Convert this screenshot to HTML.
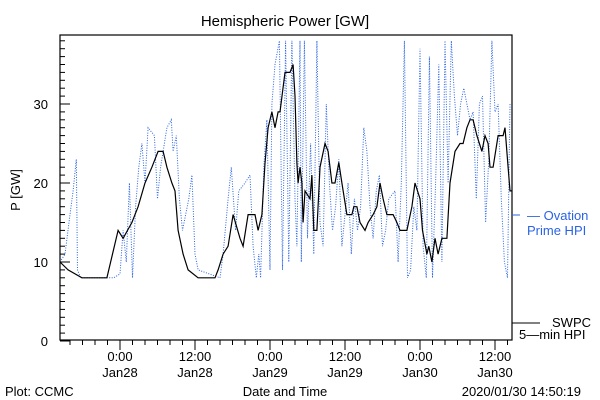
<!DOCTYPE html>
<html><head><meta charset="utf-8"><style>
body{margin:0;background:#fff}
svg{display:block;font-family:"Liberation Sans",sans-serif;font-size:13px}
</style></head><body>
<svg width="600" height="400" xmlns="http://www.w3.org/2000/svg">
<rect width="600" height="400" fill="#fff"/>
<text x="285" y="26" text-anchor="middle" font-size="15">Hemispheric Power [GW]</text>
<text transform="translate(20,190) rotate(-90)" text-anchor="middle">P [GW]</text>
<g id="axes"></g>
<g id="series"></g>
<rect x="60" y="35" width="452" height="305" fill="none" stroke="#000" stroke-width="1.2"/>
<line x1="512" y1="215" x2="520" y2="215" stroke="#2a63e6"/>
<text x="527" y="220" fill="#2a63e6">— Ovation</text>
<text x="527" y="235" fill="#2a63e6">Prime HPI</text>
<line x1="512" y1="323" x2="540" y2="323" stroke="#000"/>
<text x="552" y="327">SWPC</text>
<text x="519" y="339">5—min HPI</text>
<text x="5" y="396">Plot: CCMC</text>
<text x="285" y="396" text-anchor="middle">Date and Time</text>
<text x="581" y="396" text-anchor="end">2020/01/30 14:50:19</text>
</svg>
<script>
const yTicks=[0,10,20,30];
const xTickHours=[0,12,24,36,48,60];
const xTickTime=["0:00","12:00","0:00","12:00","0:00","12:00"];
const xTickDate=["Jan28","Jan28","Jan29","Jan29","Jan30","Jan30"];
const swpcHours=[-9.6,-8.3,-6.1,-2.1,-0.3,0.5,1.9,2.9,4,5.1,6.1,6.9,7.5,8.3,8.8,9.3,10.1,10.9,12.5,15.2,15.7,16.5,17.3,18.1,19.2,19.7,20.5,21.6,22.1,22.7,23.2,23.7,24.3,24.8,25.3,25.6,26.4,27.2,27.7,28,28.3,28.5,28.8,29.1,29.3,29.6,30.4,30.7,31,31.5,32,32.8,33.3,33.9,34.4,35,35.5,36.3,37.1,37.4,37.9,38.4,39.2,39.7,40.5,41.1,41.6,42.1,42.7,43.7,44.3,44.8,45.9,46.7,47.2,48,48.4,49.1,49.4,49.9,50.4,50.9,51.5,52.3,52.8,53.6,54.4,54.9,55.5,56,56.5,57.1,57.9,58.4,58.9,59.2,59.7,60.5,61.3,61.6,62.1,62.4,62.7];
const swpcValues=[10,9,8,8,14,13,15,17,20,22,24,24,22,20,19,14,11,9,8,8,9,11,12,16,13,12,16,16,14,16,22.5,27,29,27,29,29,34,34,35,31,22.5,20,22,20,15,19,18,21,14,14,22,25,24,20,20,22.6,20,16,16,17,17,15,14,15,16,17,20,18,16,16,15,14,14,17,20,18,14,11,12,10,13,11,13,13,20,24,25,25,27,28,28,26,24,26,25,22,22,26,26,27,22,19,19];
const ovHours=[-9.6,-8.8,-8,-7.5,-7,-6.8,-6.3,-1,0,0.5,1,1.5,2,2.5,3,3.5,4,4.5,5.5,6,6.5,7.5,8.2,8.5,9,9.5,10,11,11.5,12,12.5,16,16.5,17.3,17.8,18.5,19,20,20.8,21.3,21.8,22.2,22.5,23,23.5,24,24.3,24.8,25.5,26,26.5,27,27.5,28,28.3,28.8,29,29.5,30,30.5,31,31.5,32,32.5,33,33.5,34,34.5,35,35.5,36,36.5,37,37.5,38,38.5,39,39.5,40,40.5,41,41.5,42,42.5,43,44,44.5,45,45.5,46,46.5,47,47.5,48,48.5,49,49.5,50,50.5,51,51.5,52,52.5,53,53.5,54,54.5,55,55.5,56,56.5,57,57.5,58,58.5,59,59.5,60,60.5,61,61.5,62,62.4];
const ovValues=[10,11,16,19,23,9,8,8,8.5,14,10,20,8,17,22,25,20,27,26,18,22,27,28,24,26,18,14,18,21,11,9,8,11,18,22,14,19,20,21,12,8,11,8,22,28,9,30,35,38,9,38,10,38,18,12,38,10,38,13,25,11,38,15,12,30,20,14,17,23,12,16,20,11,18,14,17,27,24,17,13,19,21,12,14,18,19,10,20,38,8,9,17,14,37,12,8,36,8,20,35,10,38,20,38,31,26,30,32,30,28,29,18,30,31,15,23,38,29,30,18,10,8,30];
const X=h=>120+h*6.25, Y=v=>341-v*7.9;
const NS="http://www.w3.org/2000/svg";
const ax=document.getElementById('axes'), sr=document.getElementById('series');
function mk(tag,attrs,parent){const e=document.createElementNS(NS,tag);for(const k in attrs)e.setAttribute(k,attrs[k]);parent.appendChild(e);return e;}
for(let v=0;v<=38;v++){const t=mk('line',{x1:60,x2:v%10===0?70:65,y1:Y(v),y2:Y(v),stroke:'#000'},ax);

}
yTicks.forEach(v=>{const t=mk('text',{x:48,y:Y(v)+5,'text-anchor':'end'},ax);t.textContent=v;

});
for(let h=-8;h<=62;h+=2){const t=mk('line',{x1:X(h),x2:X(h),y1:340,y2:h%12===0?350:345,stroke:'#000'},ax);

}
xTickHours.forEach((h,i)=>{const a=mk('text',{x:X(h),y:361,'text-anchor':'middle'},ax);a.textContent=xTickTime[i];


const b=mk('text',{x:X(h),y:377,'text-anchor':'middle'},ax);b.textContent=xTickDate[i];

});
const clip=v=>Math.min(v,38.7);
const ovPts=ovHours.map((h,i)=>X(h).toFixed(1)+','+Y(clip(ovValues[i])).toFixed(1)).join(' ');
const ov=mk('polyline',{points:ovPts,fill:'none',stroke:'#2a63e6','stroke-width':1,'stroke-dasharray':'1 1.5'},sr);


const sp=swpcHours.map((h,i)=>X(h).toFixed(1)+','+Y(swpcValues[i]).toFixed(1));
const sw=mk('polyline',{points:sp.join(' '),fill:'none',stroke:'#000','stroke-width':1.2},sr);


</script>
</body></html>
